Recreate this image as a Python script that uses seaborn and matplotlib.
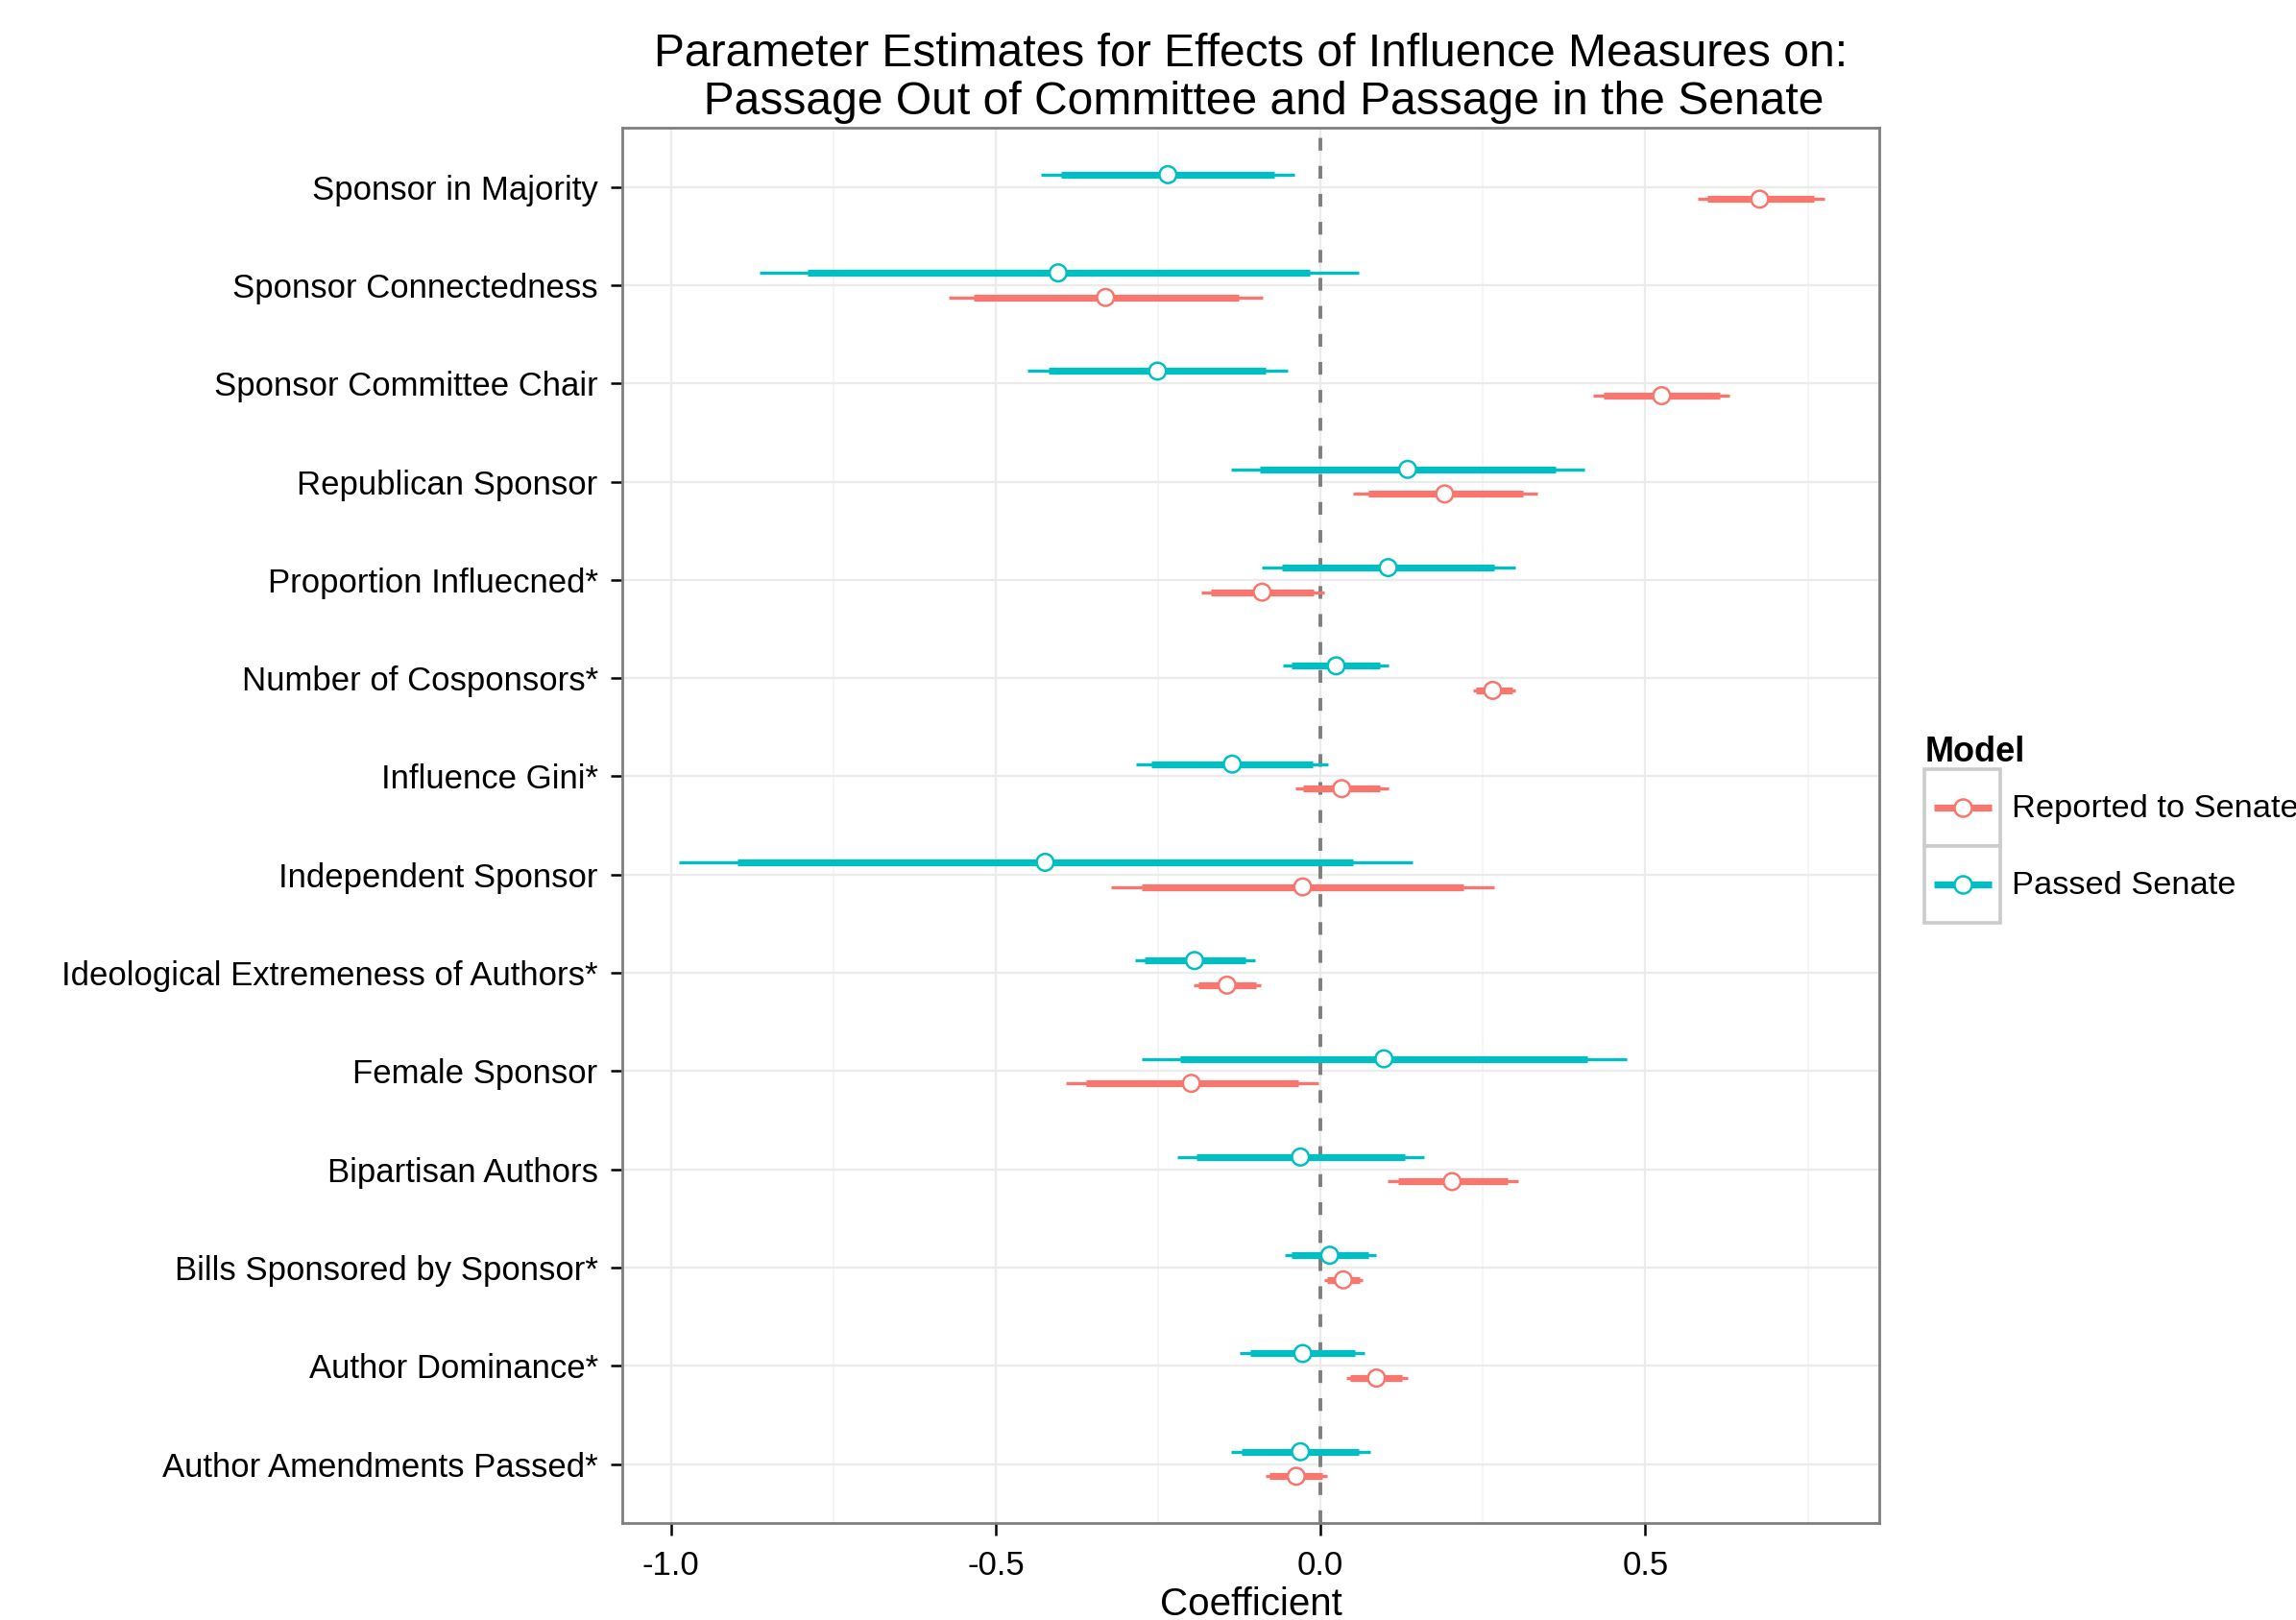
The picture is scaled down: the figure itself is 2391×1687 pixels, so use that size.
import numpy as np
import pandas as pd
import matplotlib
matplotlib.use("Agg")
import matplotlib.pyplot as plt
import seaborn as sns
from matplotlib.lines import Line2D
from matplotlib.patches import Rectangle
from matplotlib.legend_handler import HandlerLine2D
from matplotlib.ticker import FixedLocator

# terms listed top to bottom as they appear on the chart
terms = [
	"Sponsor in Majority",
	"Sponsor Connectedness",
	"Sponsor Committee Chair",
	"Republican Sponsor",
	"Proportion Influecned*",
	"Number of Cosponsors*",
	"Influence Gini*",
	"Independent Sponsor",
	"Ideological Extremeness of Authors*",
	"Female Sponsor",
	"Bipartisan Authors",
	"Bills Sponsored by Sponsor*",
	"Author Dominance*",
	"Author Amendments Passed*",
]

models = ["Reported to Senate", "Passed Senate"]

# Reported to Senate (committee model)
rep_est = [0.676, -0.331, 0.525, 0.191, -0.090, 0.265, 0.0325, -0.0275, -0.144, -0.199, 0.2025, 0.035, 0.086, -0.0375]
rep_lo_outer = [0.581, -0.5725, 0.420, 0.050, -0.184, 0.234, -0.039, -0.3225, -0.196, -0.3925, 0.1025, 0.005, 0.040, -0.085]
rep_hi_outer = [0.775, -0.089, 0.630, 0.334, 0.005, 0.300, 0.105, 0.2675, -0.0925, -0.004, 0.304, 0.065, 0.134, 0.010]
rep_lo_inner = [0.596, -0.534, 0.436, 0.074, -0.169, 0.239, -0.0275, -0.275, -0.1875, -0.361, 0.119, 0.010, 0.045, -0.079]
rep_hi_inner = [0.760, -0.126, 0.614, 0.311, -0.011, 0.295, 0.091, 0.220, -0.100, -0.035, 0.2875, 0.060, 0.126, 0.0025]

# Passed Senate (floor model)
pas_est = [-0.235, -0.404, -0.251, 0.134, 0.104, 0.024, -0.136, -0.424, -0.194, 0.0975, -0.031, 0.014, -0.0275, -0.031]
pas_lo_outer = [-0.430, -0.864, -0.451, -0.1375, -0.091, -0.0575, -0.284, -0.9875, -0.286, -0.276, -0.221, -0.055, -0.124, -0.1375]
pas_hi_outer = [-0.040, 0.059, -0.051, 0.406, 0.299, 0.105, 0.011, 0.141, -0.101, 0.471, 0.160, 0.086, 0.0675, 0.076]
pas_lo_inner = [-0.399, -0.789, -0.419, -0.094, -0.060, -0.044, -0.260, -0.8975, -0.271, -0.216, -0.191, -0.044, -0.1075, -0.121]
pas_hi_inner = [-0.071, -0.016, -0.084, 0.3625, 0.2675, 0.091, -0.0125, 0.050, -0.116, 0.411, 0.130, 0.074, 0.0525, 0.059]

x_ticks = [-1.0, -0.5, 0.0, 0.5]
x_minor = [-0.75, -0.25, 0.25, 0.75]

palette = {"Reported to Senate": "#F8766D", "Passed Senate": "#00BFC4"}
dodge = {"Reported to Senate": -0.125, "Passed Senate": 0.125}


class BoxedHandler(HandlerLine2D):
	# ggplot-style legend key: grey box with thick line and open circle
	def create_artists(self, legend, orig_handle, xdescent, ydescent, width, height, fontsize, trans):
		x0, y0 = -xdescent, -ydescent
		mid = y0 + height / 2
		box = Rectangle((x0, y0), width, height, facecolor="white", edgecolor="#cccccc", lw=1.3, transform=trans)
		pad = width * 0.12
		line = Line2D([x0 + pad, x0 + width - pad], [mid, mid], color=orig_handle.get_color(), lw=2.6,
			solid_capstyle="butt", transform=trans)
		dot = Line2D([x0 + width / 2], [mid], marker="o", markersize=6.5, markerfacecolor="white",
			markeredgecolor=orig_handle.get_color(), markeredgewidth=0.9, transform=trans)
		return [box, line, dot]


def main():
	rows = []
	n = len(terms)
	for i, term in enumerate(terms):
		base = n - i
		rows.append(dict(term=term, model="Reported to Senate", est=rep_est[i], lo_o=rep_lo_outer[i],
			hi_o=rep_hi_outer[i], lo_i=rep_lo_inner[i], hi_i=rep_hi_inner[i], base=base))
		rows.append(dict(term=term, model="Passed Senate", est=pas_est[i], lo_o=pas_lo_outer[i],
			hi_o=pas_hi_outer[i], lo_i=pas_lo_inner[i], hi_i=pas_hi_inner[i], base=base))
	df = pd.DataFrame(rows)
	df["y"] = df["base"] + df["model"].map(dodge)

	sns.set_theme(style="whitegrid")
	plt.rcParams["font.family"] = ["Liberation Sans", "DejaVu Sans"]
	plt.rcParams["text.color"] = "black"
	plt.rcParams["axes.labelcolor"] = "black"

	fig = plt.figure(figsize=(11.955, 8.435), dpi=200)
	ax = fig.add_axes([0.271, 0.0599, 0.5475, 0.8611])

	for m in models:
		sub = df[df["model"] == m]
		ax.hlines(sub["y"], sub["lo_o"], sub["hi_o"], color=palette[m], lw=1.2, zorder=3)
		ax.hlines(sub["y"], sub["lo_i"], sub["hi_i"], color=palette[m], lw=2.6, zorder=3)

	sns.scatterplot(data=df, x="est", y="y", hue="model", palette=palette, ax=ax, s=40,
		facecolor="white", legend=False, zorder=4, linewidth=0.9)
	# seaborn colours the face with hue; swap so the dots are open circles
	coll = ax.collections[-1]
	coll.set_edgecolors(coll.get_facecolors())
	coll.set_facecolors("white")

	ax.axvline(0, color="#7f7f7f", lw=1.4, ls=(0, (3.4, 4.1)), zorder=2)

	ax.set_xlim(-1.075, 0.86)
	ax.set_ylim(0.4, n + 0.6)
	ax.set_yticks(range(1, n + 1))
	ax.set_yticklabels(terms[::-1])
	ax.set_xticks(x_ticks)
	ax.set_xticklabels([f"{v:.1f}" for v in x_ticks])
	ax.xaxis.set_minor_locator(FixedLocator(x_minor))

	ax.grid(True, which="major", color="#ebebeb", lw=0.8)
	ax.grid(True, which="minor", axis="x", color="#f4f4f4", lw=0.6)
	ax.set_axisbelow(True)
	for sp in ax.spines.values():
		sp.set_color("#7f7f7f")
		sp.set_linewidth(1.0)
	ax.tick_params(axis="both", which="major", length=4.5, width=0.9, color="black",
		labelsize=12.5, labelcolor="black", bottom=True, left=True)
	ax.tick_params(axis="y", which="major", pad=4.6)
	ax.tick_params(axis="x", which="major", pad=5.5)
	ax.tick_params(axis="x", which="minor", length=0)

	ax.set_xlabel("Coefficient", fontsize=14.5, labelpad=2, color="black")
	ax.set_ylabel("")
	ax.set_title("Parameter Estimates for Effects of Influence Measures on:\n  Passage Out of Committee and Passage in the Senate",
		fontsize=17.3, linespacing=1.15, pad=5, color="black")

	handles = [Line2D([], [], color=palette[m]) for m in models]
	leg = fig.legend(handles, models, loc="center left", bbox_to_anchor=(0.831, 0.488),
		frameon=False, fontsize=12.4, title="Model", handler_map={Line2D: BoxedHandler()},
		handlelength=2.3, handleheight=3.19, labelspacing=0, handletextpad=0.35, borderpad=0,
		alignment="left")
	leg.get_title().set_fontweight("bold")
	leg.get_title().set_fontsize(13)
	leg.get_title().set_color("black")

	fig.savefig("out.png", dpi=200)
	plt.close(fig)


if __name__ == "__main__":
	main()
